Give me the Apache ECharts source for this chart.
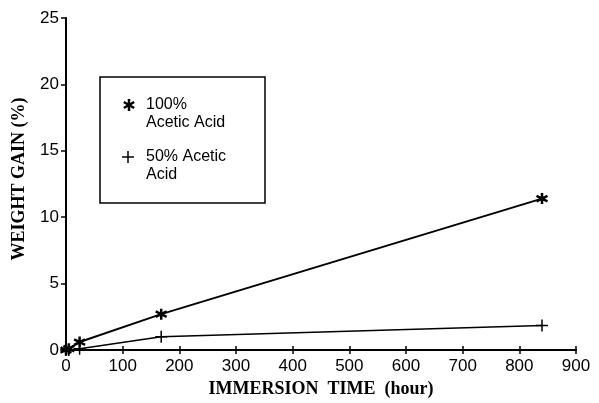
<!DOCTYPE html>
<html>
<head>
<meta charset="utf-8">
<script src="https://cdn.jsdelivr.net/npm/echarts@6/dist/echarts.min.js"></script>
<style>
  html, body { margin: 0; padding: 0; background: #fff; }
  #chart { width: 599px; height: 403px; }
</style>
</head>
<body>
<div id="chart"></div>
<script>
// Immersion time (hours) at which samples were weighed
const hoursAcid100 = [0, 5, 24, 168, 840];
const gainAcid100 = [0, 0.1, 0.6, 2.7, 11.4];
const hoursAcid50 = [0, 5, 24, 168, 840];
const gainAcid50 = [0, 0, 0.1, 1.0, 1.85];

const seriesNames = ['100%\nAcetic Acid', '50% Acetic\nAcid'];
const xTitle = 'IMMERSION  TIME  (hour)';
const yTitle = 'WEIGHT GAIN (%)';

// Six-armed asterisk and plain plus markers, stroked
const starPath = 'path://M0,-10L0,10M-8.66,-5L8.66,5M-8.66,5L8.66,-5';
const plusPath = 'path://M0,-10L0,10M-10,0L10,0';

const pairs = (xs, ys) => xs.map((x, i) => [x, ys[i]]);

const chart = echarts.init(document.getElementById('chart'), null, { renderer: 'canvas' });
const sans = 'Liberation Sans';
const serif = 'Liberation Serif';

// Stroke segments for a key marker centred at (cx, cy)
function keyMarker(cx, cy, segs, width) {
  return segs.map(s => ({
    type: 'line',
    shape: { x1: cx + s[0], y1: cy + s[1], x2: cx + s[2], y2: cy + s[3] },
    style: { stroke: '#000', lineWidth: width }
  }));
}
const starSegs = [[0, -6, 0, 6], [-5.2, -3, 5.2, 3], [-5.2, 3, 5.2, -3]];
const plusSegs = [[0, -6, 0, 6], [-6, 0, 6, 0]];

// Key box with each marker beside the first line of its label
const keyText = { fontFamily: sans, fontSize: 16, fill: '#000', lineHeight: 18 };
const graphic = [
  { type: 'rect', shape: { x: 100, y: 77, width: 165, height: 126 },
    style: { fill: 'none', stroke: '#000', lineWidth: 1.5 } },
  ...keyMarker(129, 105, starSegs, 2.5),
  { type: 'text', left: 146, top: 96, style: Object.assign({ text: seriesNames[0] }, keyText) },
  ...keyMarker(128, 157, plusSegs, 1.5),
  { type: 'text', left: 146, top: 148, style: Object.assign({ text: seriesNames[1] }, keyText) }
];

chart.setOption({
  animation: false,
  backgroundColor: '#fff',
  grid: { left: 66, top: 18, right: 23, bottom: 46 },
  graphic: graphic,
  xAxis: [{
    type: 'value', min: 0, max: 900, interval: 100,
    name: xTitle, nameLocation: 'middle', nameGap: 30,
    nameTextStyle: { fontFamily: serif, fontWeight: 'bold', fontSize: 18, color: '#000' },
    axisLine: { lineStyle: { color: '#000', width: 2 } },
    axisTick: { show: true, inside: false, length: 4, lineStyle: { color: '#000', width: 1.5 } },
    axisLabel: { fontFamily: sans, fontSize: 17, color: '#000', margin: 8 },
    splitLine: { show: false }
  }, {
    // frame's top edge
    type: 'value', min: 0, max: 900, interval: 100, position: 'top',
    axisLine: { show: true, lineStyle: { color: '#000', width: 1.5 } },
    axisTick: { show: false },
    axisLabel: { show: false },
    splitLine: { show: false }
  }, {
    // upper half of the crossing x-axis ticks
    type: 'value', min: 0, max: 900, interval: 100, position: 'bottom',
    axisLine: { show: false },
    axisTick: { show: true, inside: true, length: 4, lineStyle: { color: '#000', width: 1.5 } },
    axisLabel: { show: false },
    splitLine: { show: false }
  }],
  yAxis: [{
    type: 'value', min: 0, max: 25, interval: 5,
    name: yTitle, nameLocation: 'middle', nameGap: 38, nameRotate: 90,
    nameTextStyle: { fontFamily: serif, fontWeight: 'bold', fontSize: 18, color: '#000', padding: [0, 0, 0, 10] },
    axisLine: { show: true, lineStyle: { color: '#000', width: 2 } },
    axisTick: { show: true, inside: false, length: 5, lineStyle: { color: '#000', width: 1.5 } },
    axisLabel: { fontFamily: sans, fontSize: 17, color: '#000', margin: 7 },
    splitLine: { show: false }
  }, {
    type: 'value', min: 0, max: 25, interval: 5, position: 'right',
    axisLine: { show: true, lineStyle: { color: '#000', width: 1.5 } },
    axisTick: { show: false },
    axisLabel: { show: false },
    splitLine: { show: false }
  }],
  series: [{
    name: seriesNames[0],
    type: 'line',
    data: pairs(hoursAcid100, gainAcid100),
    symbol: starPath, symbolSize: 11,
    lineStyle: { color: '#000', width: 2 },
    itemStyle: { color: '#000', borderColor: '#000', borderWidth: 2.5 }
  }, {
    name: seriesNames[1],
    type: 'line',
    data: pairs(hoursAcid50, gainAcid50),
    symbol: plusPath, symbolSize: 12,
    lineStyle: { color: '#000', width: 1.5 },
    itemStyle: { color: '#000', borderColor: '#000', borderWidth: 1.5 }
  }]
});
</script>
</body>
</html>
